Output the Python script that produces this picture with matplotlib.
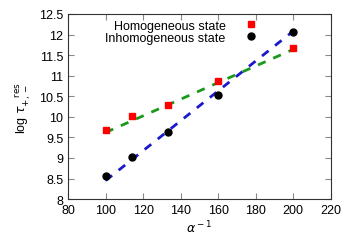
import numpy as np
import matplotlib
matplotlib.use('Agg')
import matplotlib.pyplot as plt

plt.rcParams['font.family'] = ['Liberation Sans', 'DejaVu Sans']

# данные
alpha_inv = [100, 114, 133, 160, 200]
homog = [9.68, 10.02, 10.28, 10.88, 11.68]
inhomog = [8.55, 9.02, 9.62, 10.52, 12.05]

# линии аппроксимации (концы)
fit_h_x = [100, 205]
fit_h_y = [9.62, 11.74]
fit_i_x = [100, 201]
fit_i_y = [8.45, 12.12]

fig = plt.figure(figsize=(3.6, 2.53), dpi=100)
ax = fig.add_axes([0.189, 0.209, 0.730, 0.732])

ax.plot(fit_h_x, fit_h_y, linestyle=(0, (3, 3)), color='#1a9a1a', linewidth=2)
ax.plot(fit_i_x, fit_i_y, linestyle=(0, (3, 3)), color='#1a1acc', linewidth=2)
ax.plot(alpha_inv, homog, 's', color='red', markersize=5, label='Homogeneous state', zorder=3)
ax.plot(alpha_inv, inhomog, 'o', color='black', markersize=5, label='Inhomogeneous state', zorder=3)

ax.set_xlim(80, 220)
ax.set_ylim(8, 12.5)
ax.set_xticks(np.arange(80, 221, 20))
ax.set_yticks(np.arange(8, 12.51, 0.5))
ax.set_yticklabels(['8', '8.5', '9', '9.5', '10', '10.5', '11', '11.5', '12', '12.5'])
ax.tick_params(direction='in', top=True, right=True, labelsize=9, length=4, color='#888888')
for s in ax.spines.values():
    s.set_color('#333333')

ax.set_xlabel(r'$\alpha^{\rm -1}$', fontsize=9, labelpad=2)
ax.set_ylabel(r'log $\tau_{+,-}^{\ \ \ \rm res}$', fontsize=9)

ax.legend(loc='upper right', bbox_to_anchor=(0.738, 0.995), frameon=False, markerfirst=False,
          fontsize=9, handlelength=1, handletextpad=1.5, labelspacing=0.0, borderaxespad=0)

fig.savefig('out.png', dpi=100)
